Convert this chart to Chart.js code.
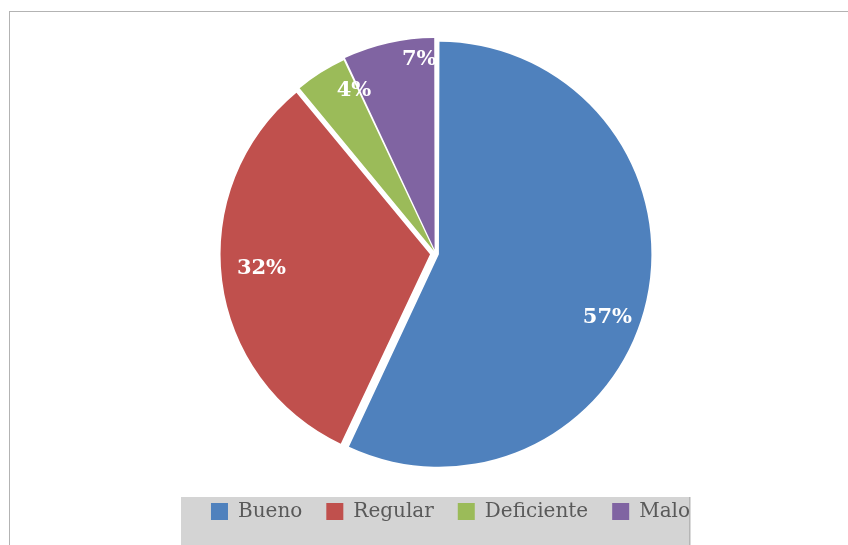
<!DOCTYPE html>
<html><head><meta charset="utf-8">
<script src="https://cdn.jsdelivr.net/npm/chart.js@4.4.1/dist/chart.umd.min.js"></script>
<style>
html,body{margin:0;padding:0;background:#fff;}
#wrap{position:relative;width:848px;height:545px;overflow:hidden;}
#frame{position:absolute;left:9px;top:11px;right:-5px;bottom:-5px;border-left:1px solid #b3b3b3;border-top:1px solid #b3b3b3;}
canvas{position:absolute;left:0;top:0;}
</style></head><body>
<div id="wrap"><div id="frame"></div><canvas id="c" width="848" height="545"></canvas></div>
<script>
// ---- data ----
const categories = ['Bueno', 'Regular', 'Deficiente', 'Malo'];
const values = [57, 32, 4, 7];
const percentLabels = ['57%', '32%', '4%', '7%'];

// ---- styles ----
const colors = ['#4F81BD', '#C0504D', '#9BBB59', '#8064A2'];
const sliceOffsets = [14, 22, 11.5, 16.5];
const labelAngleFrac = [0.54, 0.52, 0.92, 0.82];
const labelRadiusFrac = [0.845, 0.807, 0.85, 0.90];

const legendBackground = {
  id: 'legendBackground',
  afterLayout(chart) {
    chart.legend.left += 15;
    chart.legend.right += 15;
  },
  beforeDraw(chart) {
    const ctx = chart.ctx;
    ctx.save();
    ctx.fillStyle = '#d4d4d4';
    ctx.fillRect(181, 497, 509, 48);
    ctx.fillStyle = '#b5b5b5';
    ctx.fillRect(689, 497, 1.5, 48);
    ctx.restore();
  }
};

const sliceLabels = {
  id: 'sliceLabels',
  afterDatasetsDraw(chart) {
    const ctx = chart.ctx;
    const meta = chart.getDatasetMeta(0);
    ctx.save();
    ctx.fillStyle = '#ffffff';
    ctx.font = 'bold 21px "DejaVu Serif"';
    ctx.textAlign = 'center';
    ctx.textBaseline = 'middle';
    meta.data.forEach((arc, i) => {
      const p = arc.getProps(['x', 'y', 'startAngle', 'endAngle', 'outerRadius', 'circumference'], true);
      const off = sliceOffsets[i] / 4;
      const fix = 1 - Math.sin(Math.min(Math.PI, p.circumference));
      const disp = off * (1 + fix);
      const half = (p.startAngle + p.endAngle) / 2;
      const cx = p.x + Math.cos(half) * disp;
      const cy = p.y + Math.sin(half) * disp;
      const a = p.startAngle + labelAngleFrac[i] * (p.endAngle - p.startAngle);
      const r = p.outerRadius * labelRadiusFrac[i];
      ctx.fillText(percentLabels[i], cx + Math.cos(a) * r, cy + Math.sin(a) * r);
    });
    ctx.restore();
  }
};

new Chart(document.getElementById('c'), {
  type: 'pie',
  data: {
    labels: categories,
    datasets: [{
      data: values,
      backgroundColor: colors,
      borderWidth: 0,
      offset: sliceOffsets,
      hoverOffset: 0,
      clip: false
    }]
  },
  options: {
    responsive: false,
    animation: false,
    radius: 209,
    layout: { padding: { left: 23, right: 0, top: 29.5, bottom: 13.5 } },
    plugins: {
      tooltip: { enabled: false },
      legend: {
        position: 'bottom',
        labels: {
          boxWidth: 17,
          boxHeight: 17,
          padding: 24,
          color: '#595959',
          font: { family: '"DejaVu Serif"', size: 20 }
        }
      }
    }
  },
  plugins: [legendBackground, sliceLabels]
});
</script>
</body></html>
